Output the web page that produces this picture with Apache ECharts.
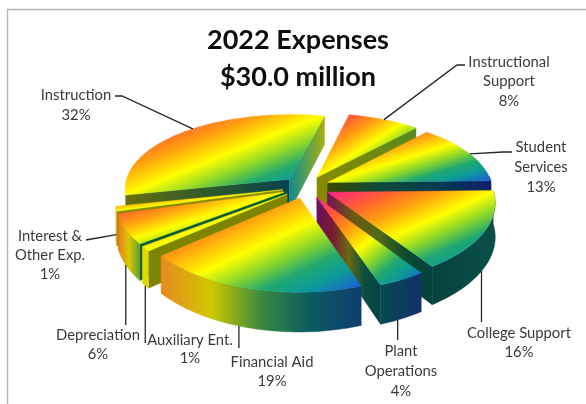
<!DOCTYPE html>
<html>
<head>
<meta charset="utf-8">
<style>html,body{margin:0;padding:0;background:#fff}#chart{width:586px;height:404px}</style>
<script src="https://cdn.jsdelivr.net/npm/echarts@6/dist/echarts.min.js"></script>
</head>
<body>
<div id="chart"></div>
<script>
// Expense categories and their share of the total, in percent, clockwise.
const categories = ['Instruction', 'Instructional Support', 'Student Services', 'College Support',
  'Plant Operations', 'Financial Aid', 'Auxiliary Ent.', 'Depreciation', 'Interest & Other Exp.'];
const shares = [32, 8, 13, 16, 4, 19, 1, 6, 1];
const titleLines = ['2022 Expenses', '$30.0 million'];
const labelLines = [['Instruction'], ['Instructional', 'Support'], ['Student', 'Services'], ['College Support'],
  ['Plant', 'Operations'], ['Financial Aid'], ['Auxiliary Ent.'], ['Depreciation'], ['Interest &', 'Other Exp.']];

// Projection of the tilted pie onto the page.
const PIE = { cx: 306, cy: 187, r: 165, tiltY: 76.5, perspX: 0.12, perspY: 0.15, depth: 33, explode: 0.145, startDeg: 258 };
const RAD = Math.PI / 180;

// Colour ramp of the top faces, running from the top-left to the bottom-right of each slice.
const topRamp = [[0, '#ff2090'], [0.09, '#ff3c62'], [0.2, '#ff6230'], [0.34, '#ffa010'], [0.5, '#ffff00'],
  [0.62, '#90d828'], [0.74, '#20a870'], [0.85, '#0c9a9a'], [1, '#1f50e0']];

// Shaded side faces, colours spread evenly from left to right.
const sideColors = [
  { start: ['#66700f', '#2d5a2a', '#07424f'], end: ['#108a90', '#5aa050', '#a8b010'], outer: ['#8a8a10'] },
  { start: ['#b0b000'], end: ['#8a8a00', '#6e8a10', '#5a8a20'], outer: ['#5a8a20'] },
  { start: ['#3a4a00'], end: ['#3a4a00', '#0a4a3a', '#063a50', '#10206a'], outer: ['#10206a'] },
  { start: ['#7a0f55'], end: ['#7a0f55', '#6a5a10', '#4f6a14', '#0a4a30', '#063f3f'], outer: ['#06423f', '#0a5048'] },
  { start: ['#6a0f60'], end: ['#6a0f60', '#7a1a30', '#6a6a10', '#0a5040', '#064048'], outer: ['#064a50', '#10306a'] },
  { start: ['#0f3f70'], end: ['#0f3f70'], outer: ['#e88a20', '#cfc800', '#3a8a40', '#0a5a60', '#0f3f70'] },
  { start: ['#7d8500'], end: ['#7d8500'], outer: ['#e0d800'] },
  { start: ['#0a5a3a'], end: ['#0a5a3a'], outer: ['#e87a20', '#d8c800', '#60a030'] },
  { start: ['#8a8a00'], end: ['#8a8a00'], outer: ['#e0b020'] }
];

// Leader line of each label: fixed text-side points, then a point on the slice's rim.
const leaders = [
  { from: [[115, 96], [122, 96]], along: 0.53, z: 0 },
  { from: [[465, 65], [457, 65]], along: 0.5, z: 0 },
  { from: [[512, 152], [503, 152]], along: 0.52, z: 0 },
  { fromY: 322, along: 0.55, z: 1 },
  { fromY: 340, along: 0.6, z: 1 },
  { fromY: 348, along: 0.55, z: 1 },
  { fromY: 343, along: 0.5, z: 1 },
  { fromY: 325, along: 0.5, z: 1 },
  { from: [[86, 240]], along: 0.5, z: 0.75 }
];
// Centre of each text block and the line height inside it.
const labelSpots = [[76, 95, 20], [509, 62, 19.5], [541, 147, 20], [519, 333, 19], [401, 351, 20],
  [272, 362, 19], [190, 340, 18.5], [98, 335, 19], [50, 236, 19]];

// Angular extent of each slice, measured clockwise from north and kept ascending past 360.
const spans = [];
shares.reduce((acc, v) => {
  spans.push([acc, acc + v * 3.6]);
  return acc + v * 3.6;
}, PIE.startDeg);
// The part of the rim that faces the viewer, in the same running angle.
const NEAR_RIM = [445, 618];

function project(X, Y, z) {
  const fx = 1 / (1 - PIE.perspX * Y), fy = 1 / (1 - PIE.perspY * Y);
  return [PIE.cx + PIE.r * X * fx, PIE.cy + (PIE.tiltY * Y + z * PIE.depth) * fy];
}
function offsetOf(i) {
  const mid = (spans[i][0] + spans[i][1]) / 2 * RAD;
  return [PIE.explode * Math.sin(mid), -PIE.explode * Math.cos(mid)];
}
function rimPoint(i, deg, z) {
  const o = offsetOf(i);
  return project(o[0] + Math.sin(deg * RAD), o[1] - Math.cos(deg * RAD), z);
}
function tipPoint(i, z) {
  const o = offsetOf(i);
  return project(o[0], o[1], z);
}
function arcPoints(i, a0, a1, z) {
  const pts = [];
  const n = Math.max(2, Math.ceil(Math.abs(a1 - a0) / 1.5));
  for (let k = 0; k <= n; k++) pts.push(rimPoint(i, a0 + (a1 - a0) * k / n, z));
  return pts;
}
function bounds(pts) {
  const xs = pts.map(p => p[0]), ys = pts.map(p => p[1]);
  return { x0: Math.min(...xs), x1: Math.max(...xs), y0: Math.min(...ys), y1: Math.max(...ys) };
}
// Bands run parallel to the anti-diagonal of the slice's box.
function topFill(pts) {
  const b = bounds(pts), w = b.x1 - b.x0, h = b.y1 - b.y0, norm = Math.hypot(w, h);
  const nx = h / norm, ny = w / norm, half = w * h / norm;
  const mx = (b.x0 + b.x1) / 2, my = (b.y0 + b.y1) / 2;
  return {
    type: 'linear', global: true,
    x: mx - nx * half, y: my - ny * half, x2: mx + nx * half, y2: my + ny * half,
    colorStops: topRamp.map(s => ({ offset: s[0], color: s[1] }))
  };
}
function sideFill(pts, colors) {
  if (colors.length === 1) return colors[0];
  const b = bounds(pts);
  return {
    type: 'linear', global: true, x: b.x0, y: 0, x2: b.x1, y2: 0,
    colorStops: colors.map((c, k) => ({ offset: k / (colors.length - 1), color: c }))
  };
}
function poly(points, fill, stroke) {
  return { type: 'polygon', shape: { points }, style: { fill, stroke: stroke || fill, lineWidth: 0.4 } };
}
// A radial wall shows only when its outward side faces down the page.
function wallVisible(t, p, centre) {
  let nx = -(p[1] - t[1]), ny = p[0] - t[0];
  if (nx * (centre[0] - t[0]) + ny * (centre[1] - t[1]) > 0) { nx = -nx; ny = -ny; }
  return ny > 0;
}

function renderSlice(params, api) {
  const i = api.value(0);
  const a0 = spans[i][0], a1 = spans[i][1];
  const tip = tipPoint(i, 0), tipLow = tipPoint(i, 1);
  const arc = arcPoints(i, a0, a1, 0);
  const top = [tip].concat(arc);
  const centre = rimPoint(i, (a0 + a1) / 2, 0).map((v, k) => (v + tip[k]) / 2);
  const kids = [];
  const walls = [[a0, sideColors[i].start], [a1, sideColors[i].end]];
  walls.forEach(w => {
    const p = rimPoint(i, w[0], 0);
    if (wallVisible(tip, p, centre)) {
      const q = [tip, p, rimPoint(i, w[0], 1), tipLow];
      kids.push(poly(q, sideFill(q, w[1])));
    }
  });
  const o0 = Math.max(a0, NEAR_RIM[0]), o1 = Math.min(a1, NEAR_RIM[1]);
  if (o1 > o0) {
    const upper = arcPoints(i, o0, o1, 0), lower = arcPoints(i, o0, o1, 1).reverse();
    const q = upper.concat(lower);
    kids.push(poly(q, sideFill(q, sideColors[i].outer)));
  }
  kids.push(poly(top, topFill(top)));
  return { type: 'group', children: kids };
}

function renderLabel(params, api) {
  const i = api.value(0);
  const L = leaders[i], S = labelSpots[i];
  const deg = spans[i][0] + (spans[i][1] - spans[i][0]) * L.along;
  const rim = rimPoint(i, deg, L.z);
  const line = (L.from || [[rim[0], L.fromY]]).concat([rim]);
  const kids = [{
    type: 'polyline', shape: { points: line },
    style: { fill: null, stroke: '#262626', lineWidth: 1.3 }
  }];
  labelLines[i].concat([shares[i] + '%']).forEach((txt, k) => {
    kids.push({
      type: 'text',
      style: {
        x: S[0], y: S[1] + k * S[2], text: txt, align: 'center', verticalAlign: 'middle',
        font: '14.8px Lato', fill: '#3a3a3a'
      }
    });
  });
  return { type: 'group', children: kids };
}

// Far slices are painted first so the nearer ones overlap them.
const paintOrder = categories.map((c, i) => i).sort((p, q) => offsetOf(p)[1] - offsetOf(q)[1]);

const chart = echarts.init(document.getElementById('chart'), null, { renderer: 'canvas' });
chart.setOption({
  animation: false,
  backgroundColor: '#ffffff',
  title: {
    text: titleLines.join('\n'), left: 293, top: 17, textAlign: 'center',
    textStyle: { fontFamily: 'Lato', fontWeight: 700, fontSize: 27, lineHeight: 37, color: '#0d0d0d' }
  },
  graphic: [{
    type: 'polyline', silent: true,
    shape: { points: [[7.5, 404], [7.5, 9.5], [586, 9.5]] },
    style: { fill: null, stroke: '#b4b4b4', lineWidth: 1.4 }
  }],
  series: [
    { type: 'custom', coordinateSystem: 'none', renderItem: renderSlice, silent: true,
      data: paintOrder.map(i => [i, shares[i], categories[i]]) },
    { type: 'custom', coordinateSystem: 'none', renderItem: renderLabel, silent: true,
      data: categories.map((c, i) => [i, shares[i], c]) }
  ]
});
</script>
</body>
</html>
